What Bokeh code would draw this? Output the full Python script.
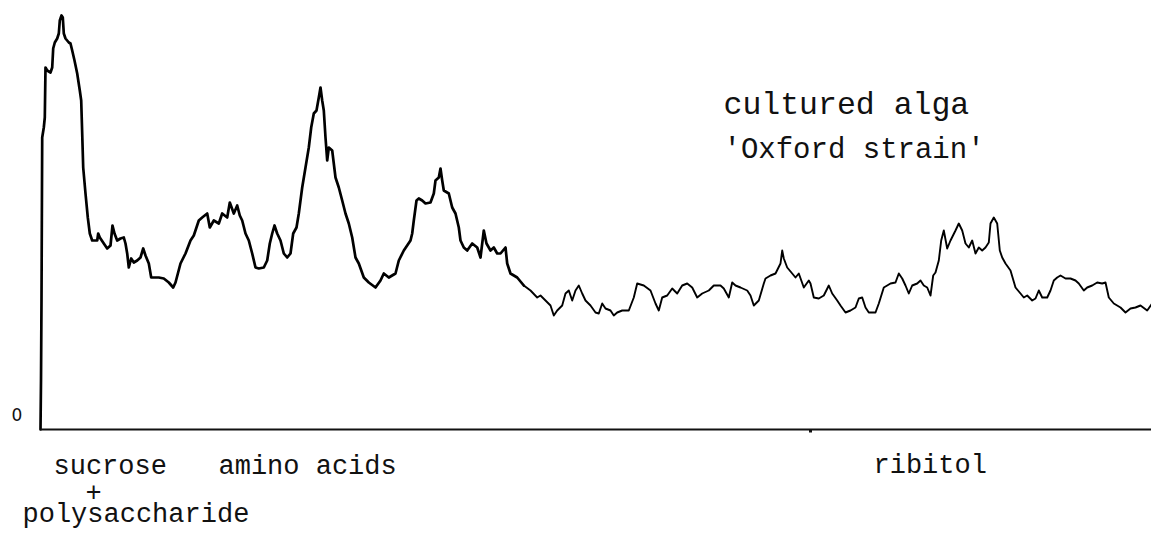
from bokeh.plotting import figure
from bokeh.models import Range1d, FixedTicker, LinearAxis
from bokeh.core.properties import value
from bokeh.embed import file_html
from bokeh.resources import INLINE

# ---- data: densitometer trace (distance along chromatogram, signal) ----
distance = [0, 0.5, 1, 1.7, 3.3, 4.3, 5, 6.7, 10, 11.7, 12.7, 14.3, 16.7, 18.3, 19.3, 21, 22.3, 23.3, 25,
            28.3, 30, 31.7, 34, 36.7, 39.3, 40.7, 41.7, 42.7, 45, 47.3, 49.3, 51.7, 56.7, 57.7, 59.3, 63.3,
            66.7, 70, 72, 74, 76.7, 80, 83.3, 85, 86.7, 88.3, 90.7, 93.3, 96.7, 100, 102.7, 105, 108.3,
            110.7, 113.3, 118.3, 123.3, 128.3, 132.7, 135, 140, 145, 150, 153.3, 158.3, 161.7, 166.7,
            169.3, 173.3, 178.3, 181.7, 186.7, 189.3, 193.3, 196.7, 199.3, 201.7, 205, 208.3, 211.7, 215,
            218.3, 223.3, 226.7, 229.3, 231.7, 234, 236.7, 240, 243.3, 246.7, 250, 252.7, 256, 258.3,
            261.7, 265, 268.3, 270.7, 273.3, 276, 278.3, 280, 281.7, 283.3, 285, 286.7, 288.3, 291.7, 295,
            298.3, 301.7, 305, 308.3, 311.7, 315, 318.3, 323.3, 328.3, 335,
            340, 343.3, 348.3, 355, 358.3, 363.3, 370, 371.7, 373.3, 376, 378.3, 381.7, 385, 390, 393.3,
            395, 398.3, 400, 401.7, 403.3, 408.3, 411.7, 415, 418.3, 420, 423.3, 426.7, 431.7, 436.7, 440,
            443.3, 446, 450, 453.3, 456.7, 460, 465, 466.7, 470, 476.7, 483.3, 490, 496.7, 500, 505, 510,
            513.3, 516.7, 521.7, 525, 528.3, 531.7, 535, 538.3, 541.7, 545, 550, 555, 558.3, 561.7, 565,
            570, 573.3, 576.7, 581.7, 588.3, 593.3, 596.7, 603.3, 610, 615, 618.3, 621.7, 626.7, 631.7,
            636.7, 641.7, 646.7, 651.7, 656.7, 661.7, 668.3, 673.3, 680, 683.3, 688.3, 691.7, 695, 700,
            706.7,
            710, 713.3, 718.3, 723.3, 725, 730, 735, 740, 741.7, 743.3, 746.7, 751.7, 755, 758.3, 763.3,
            768.3, 770, 773.3, 778.3, 783.3, 788.3, 791.7, 796.7, 800, 805, 810, 815, 818.3, 821.7, 825,
            828.3, 835, 838.3, 843.3, 846.7, 850, 855, 858.3, 861.7, 865, 868.3, 871.7, 876.7, 880, 883.3,
            886.7, 890, 892.7, 895, 898.3, 900.7, 903.3, 906.7, 910, 915, 918.3, 921.7, 925, 928.3, 931.7,
            935, 938.3, 941.7, 945, 948.3, 950, 953.3, 956.7, 959.3, 961.7, 965, 970, 975, 980, 983.3,
            986.7, 991.7, 995, 998.3, 1001.7, 1006.7, 1010, 1013.3, 1016.7, 1020, 1025, 1030, 1035,
            1038.3, 1043.3, 1046.7, 1051.7, 1056.7, 1061.7, 1065, 1068.3, 1073.3, 1080, 1085, 1090, 1095,
            1100, 1106.7, 1111.7, 1116.7, 1121.7, 1126.7]
signal = [0, 49, 129, 292, 302, 312, 362, 359, 357, 362, 381, 387, 391, 396, 409, 414, 412, 396, 391,
          387, 386, 379, 369, 356, 339, 329, 296, 262, 236, 212, 196, 189, 189, 196, 192, 186,
          181, 184, 204, 196, 189, 191, 192, 186, 176, 162, 171, 167, 169, 172, 181, 174, 166,
          152, 152, 152, 151, 147, 142, 147, 166, 176, 189, 194, 209, 212, 216,
          202, 209, 206, 216, 212, 227, 216, 224, 214, 209, 196, 189, 176, 162,
          161, 162, 169, 186, 196, 204, 196, 189, 176, 172, 176, 196, 202, 216,
          242, 262, 282, 302, 316, 319, 332, 342, 329, 319, 292, 269, 282, 279, 252,
          242, 229, 216, 206, 192, 172, 166, 152, 147, 142,
          149, 156, 152, 156, 169, 179, 189, 196, 209, 229, 231, 229, 226, 227, 236,
          249, 252, 261, 249, 239, 236, 222, 216, 202, 189, 182, 179, 186, 182, 172,
          199, 186, 179, 182, 176, 176, 182, 166, 156, 152, 144, 139, 132, 134, 129, 124,
          114, 119, 124, 136, 139, 129, 139, 144, 136, 129, 124, 117, 116, 126, 121,
          119, 114, 117, 119, 119, 132, 146, 144, 139, 126, 119, 132, 134, 141,
          136, 144, 146, 142, 132, 136, 139, 144, 144, 141, 132, 147, 144, 142,
          139,
          134, 124, 129, 146, 151, 154, 156, 166, 179, 171, 162, 156, 152, 156, 142,
          149, 146, 132, 131, 134, 144, 136, 129, 124, 117, 119, 122, 131, 132, 122,
          117, 117, 126, 142, 144, 146, 147, 156, 151, 144, 136, 144, 146, 149, 144,
          142, 134, 154, 157, 169, 189, 199, 181, 189, 199, 206, 199, 186, 182, 189,
          176, 182, 179, 182, 187, 206, 212, 206, 179, 172, 166, 159, 142, 136, 132,
          134, 129, 131, 139, 132, 132, 139, 149, 152, 154, 151, 151, 149,
          146, 139, 142, 144, 147, 146, 147, 132, 126, 122, 117, 121, 122,
          124, 119, 126, 131, 132, 134]

zero_label = "0"
peak_labels = ["sucrose", "+", "polysaccharide", "amino acids", "ribitol"]
title_lines = ["cultured alga", "'Oxford strain'"]
marker_tick = [770]

# ---- figure: frame fills the canvas, data origin at the trace start ----
FONT = "Liberation Mono"
INK = "#111111"
p = figure(width=1151, height=534, output_backend="svg", toolbar_location=None,
           x_range=Range1d(-40, 1111), y_range=Range1d(-105, 429),
           x_axis_location=None, y_axis_location=None, min_border=0)
p.outline_line_color = None
p.grid.visible = False
p.background_fill_color = "white"
p.border_fill_color = "white"

ax = LinearAxis(fixed_location=0, bounds=(0, max(distance) + 40),
                ticker=FixedTicker(ticks=marker_tick))
ax.minor_tick_line_color = None
ax.major_tick_in = 0
ax.major_tick_out = 3
ax.major_tick_line_width = 3
ax.major_tick_line_color = INK
ax.major_label_text_font_size = "0px"
ax.major_label_text_color = None
ax.axis_line_width = 2
ax.axis_line_color = INK
p.add_layout(ax, "below")

# trace: heavier ink on the early part, as in the original recording
split = 160
p.line(distance[:split + 1], signal[:split + 1], line_color="#000000", line_width=2.7,
       line_join="round", line_cap="round")
p.line(distance[split:], signal[split:], line_color="#000000", line_width=1.9,
       line_join="round", line_cap="round")

# y zero mark
p.text(x=[-23.5], y=[15], text=[zero_label], text_font=value("DejaVu Sans"), text_font_size=value("17px"),
       text_align="center", text_baseline="middle", text_color=INK)

# peak identification labels below the axis
pos = {"sucrose": (13, -37, "left"), "+": (53, -62, "center"),
       "polysaccharide": (-18, -85, "left"),
       "amino acids": (178, -37, "left"), "ribitol": (833, -36, "left")}
for t in peak_labels:
    x, y, a = pos[t]
    p.text(x=[x], y=[y], text=[t], text_font=value(FONT), text_font_size=value("27px"),
           text_align=a, text_baseline="middle", text_color=INK)

# sample annotation
for t, y, fs in zip(title_lines, [324, 279], ["31.5px", "29px"]):
    p.text(x=[683], y=[y], text=[t], text_font=value(FONT), text_font_size=value(fs),
           text_align="left", text_baseline="middle", text_color=INK)

open("out.html", "w").write(file_html(p, INLINE))
